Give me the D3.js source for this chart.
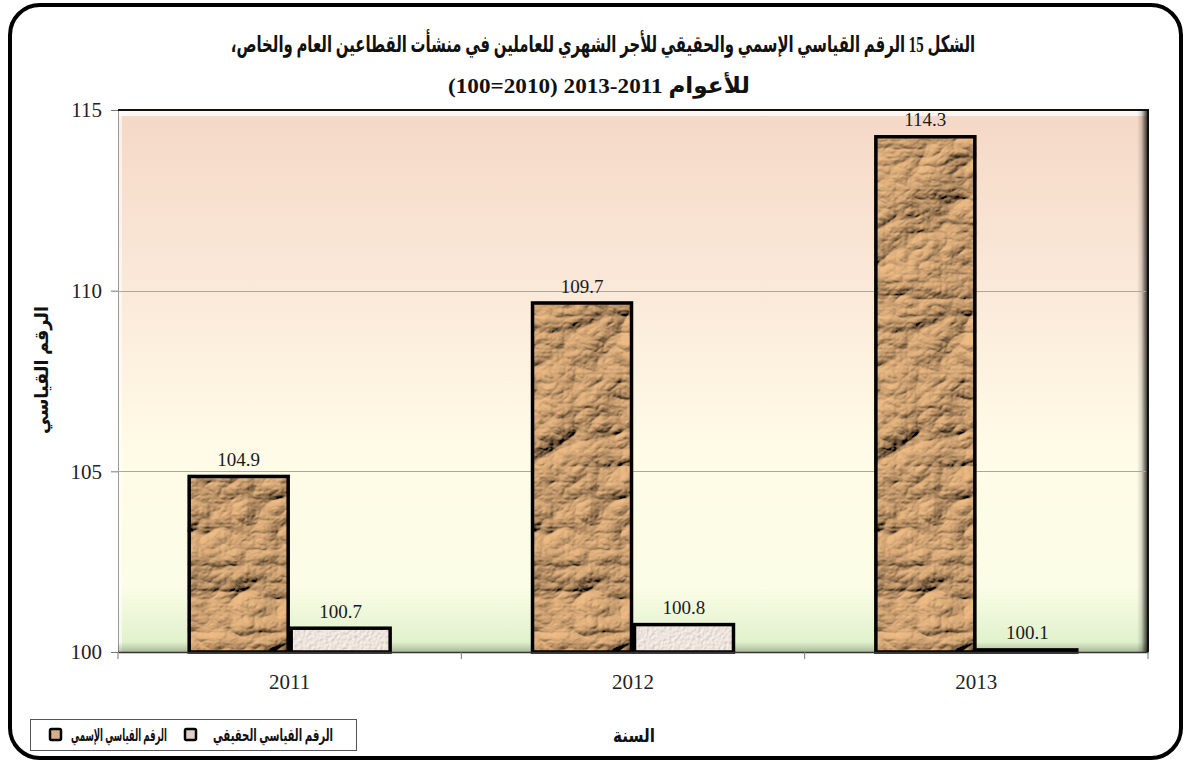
<!DOCTYPE html>
<html><head><meta charset="utf-8">
<script src="https://cdn.jsdelivr.net/npm/d3@7/dist/d3.min.js"></script>
<style>
html,body{margin:0;padding:0;background:#fff;}
svg{display:block;}
</style></head>
<body>
<svg id="chart" width="1189" height="765"></svg>
<script>
const years = ["2011", "2012", "2013"];
const nominal = [104.9, 109.7, 114.3];
const real = [100.7, 100.8, 100.1];
const yTicks = [100, 105, 110, 115];
const seriesNames = ["الرقم القياسي الإسمي", "الرقم القياسي الحقيقي"];
const titleLine1 = "الشكل 15 الرقم القياسي الإسمي والحقيقي  للأجر الشهري للعاملين في منشأت القطاعين العام والخاص،";
const titleLine2 = "للأعوام  2011\u200F-2013 (2010=100)";
const yTitle = "الرقم القياسي";
const xTitle = "السنة";

const svg = d3.select("#chart");
const plot = {left: 118, right: 1148, top: 110, bottom: 652};
const serif = '"Liberation Serif","Times New Roman",serif';

const defs = svg.append("defs");
const bg = defs.append("linearGradient").attr("id","plotbg").attr("x1",0).attr("y1",0).attr("x2",0).attr("y2",1);
[["0%","#f5d8c6"],["35%","#fbeada"],["62%","#fffbe6"],["88%","#fbfde6"],["100%","#dcefc8"]].forEach(s=>bg.append("stop").attr("offset",s[0]).attr("stop-color",s[1]));
const rs = defs.append("linearGradient").attr("id","rshade").attr("x1",0).attr("y1",0).attr("x2",1).attr("y2",0);
[["0%","#000",0],["40%","#000",0.15],["100%","#000",0.85]].forEach(s=>rs.append("stop").attr("offset",s[0]).attr("stop-color",s[1]).attr("stop-opacity",s[2]));
const bs = defs.append("linearGradient").attr("id","bshade").attr("x1",0).attr("y1",0).attr("x2",0).attr("y2",1);
[["0%","#000",0],["100%","#000",0.45]].forEach(s=>bs.append("stop").attr("offset",s[0]).attr("stop-color",s[1]).attr("stop-opacity",s[2]));

// crumpled paper filter
const f1 = defs.append("filter").attr("id","crumple").attr("x",0).attr("y",0).attr("width","100%").attr("height","100%");
f1.append("feTurbulence").attr("type","turbulence").attr("baseFrequency","0.011 0.015").attr("numOctaves",5).attr("seed",11).attr("result","noise");
const dl = f1.append("feDiffuseLighting").attr("in","noise").attr("lighting-color","#f0bd86").attr("surfaceScale",10).attr("diffuseConstant",1.0).attr("result","light");
dl.append("feDistantLight").attr("azimuth",235).attr("elevation",40);
f1.append("feComposite").attr("in","light").attr("in2","SourceGraphic").attr("operator","in");

const f2 = defs.append("filter").attr("id","paper").attr("x",0).attr("y",0).attr("width","100%").attr("height","100%");
f2.append("feTurbulence").attr("type","fractalNoise").attr("baseFrequency","0.35").attr("numOctaves",2).attr("seed",3).attr("result","noise");
const dl2 = f2.append("feDiffuseLighting").attr("in","noise").attr("lighting-color","#fbf3ea").attr("surfaceScale",1.0).attr("result","light");
dl2.append("feDistantLight").attr("azimuth",225).attr("elevation",62);
f2.append("feComposite").attr("in","light").attr("in2","SourceGraphic").attr("operator","in");

// outer rounded frame
svg.append("rect").attr("x",10).attr("y",5).attr("width",1171).attr("height",753)
  .attr("rx",30).attr("ry",30).attr("fill","#fff").attr("stroke","#000").attr("stroke-width",4);

const y = d3.scaleLinear().domain([100,115]).range([plot.bottom, plot.top]);
const x0 = d3.scaleBand().domain(years).range([plot.left, plot.right]).paddingInner(0.406).paddingOuter(0.203);
const x1 = d3.scaleBand().domain([0,1]).range([0, x0.bandwidth()]).padding(0);

// plot area
svg.append("rect").attr("x",plot.left).attr("y",plot.top).attr("width",plot.right-plot.left).attr("height",plot.bottom-plot.top).attr("fill","url(#plotbg)");
svg.append("rect").attr("x",plot.left).attr("y",plot.top+1).attr("width",plot.right-plot.left).attr("height",5).attr("fill","#fff").attr("opacity",0.8);
svg.append("rect").attr("x",plot.left).attr("y",plot.top).attr("width",4).attr("height",plot.bottom-plot.top).attr("fill","#fff").attr("opacity",0.6);
svg.append("line").attr("x1",plot.left+0.5).attr("x2",plot.left+0.5).attr("y1",plot.top).attr("y2",plot.bottom).attr("stroke","#9a9a9a");
svg.append("rect").attr("x",plot.right-11).attr("y",plot.top+1).attr("width",11).attr("height",plot.bottom-plot.top-1).attr("fill","url(#rshade)");
svg.append("rect").attr("x",plot.left).attr("y",plot.bottom-10).attr("width",plot.right-plot.left).attr("height",10).attr("fill","url(#bshade)").attr("opacity",0.5);

svg.append("g").selectAll("line").data(yTicks.filter(d=>d>100 && d<115)).join("line")
  .attr("x1",plot.left).attr("x2",plot.right-2).attr("y1",d=>Math.round(y(d))+0.5).attr("y2",d=>Math.round(y(d))+0.5)
  .attr("stroke","#a8a8a0").attr("stroke-width",1);
svg.append("line").attr("x1",plot.left).attr("x2",plot.right+1).attr("y1",plot.top).attr("y2",plot.top).attr("stroke","#111").attr("stroke-width",2);
svg.append("line").attr("x1",plot.right).attr("x2",plot.right).attr("y1",plot.top).attr("y2",plot.bottom).attr("stroke","#111").attr("stroke-width",2);

// y axis
const yAxis = d3.axisLeft(y).tickValues(yTicks).tickSize(7).tickPadding(9).tickFormat(d3.format("d"));
const gy = svg.append("g").attr("transform",`translate(${plot.left},0)`).call(yAxis);
gy.attr("font-family",null).attr("font-size",null);
gy.select(".domain").remove();
gy.selectAll(".tick line").attr("stroke","#777");
gy.selectAll("text").style("font-family",serif).style("font-size","21px").attr("fill","#222");

// bars
const groups = svg.append("g").selectAll("g").data(years).join("g").attr("transform",d=>`translate(${x0(d)},0)`);
groups.each(function(d,i){
  const g = d3.select(this);
  const bd = [{s:0,v:nominal[i]},{s:1,v:real[i]}];
  g.selectAll("rect.fill").data(bd).join("rect").attr("class","fill")
    .attr("x",b=>x1(b.s)).attr("width",x1.bandwidth())
    .attr("y",b=>y(b.v)).attr("height",b=>y(100)-y(b.v))
    .attr("fill",b=>b.s===0?"#b8966a":"#e0d9d0")
    .attr("filter",b=>b.s===0?"url(#crumple)":"url(#paper)");
  g.selectAll("rect.edge").data(bd).join("rect").attr("class","edge")
    .attr("x",b=>x1(b.s)+1.5).attr("width",x1.bandwidth()-3)
    .attr("y",b=>y(b.v)+1.5).attr("height",b=>Math.max(0.5,y(100)-y(b.v)-1.5))
    .attr("fill","none").attr("stroke","#000").attr("stroke-width",3.5);
  g.selectAll("text").data(bd).join("text")
    .attr("x",b=>x1(b.s)+x1.bandwidth()/2).attr("y",b=>y(b.v)-9)
    .attr("text-anchor","middle").style("font-family",serif).style("font-size","19px").attr("fill","#1a1a1a")
    .text(b=>b.v.toFixed(1));
});

// x axis
const xAxis = d3.axisBottom(x0).tickSize(0).tickPadding(22);
const gx = svg.append("g").attr("transform",`translate(0,${plot.bottom})`).call(xAxis);
gx.attr("font-family",null).attr("font-size",null);
gx.select(".domain").attr("stroke","#333").attr("stroke-width",1.5);
gx.selectAll("text").style("font-family",serif).style("font-size","21px").attr("fill","#222");
const bounds = [plot.left].concat(years.map(d=>x0(d)-x0.step()*x0.paddingInner()/2 + x0.step()));
svg.append("g").selectAll("line").data(bounds).join("line")
  .attr("x1",d=>d).attr("x2",d=>d).attr("y1",plot.bottom).attr("y2",plot.bottom+7).attr("stroke","#777");

// Arabic text helper: fixed font size, horizontally scaled to target width
const arabic = '"Liberation Serif", "DejaVu Sans", sans-serif';
function label(parent, txt, cx, cy, size, target, rotate){
  const g = parent.append("g");
  const t = g.append("text").attr("x",0).attr("y",0).attr("text-anchor","middle").attr("direction","rtl")
    .style("font-family",arabic).style("font-weight","bold").style("font-size",size+"px").attr("fill","#111").text(txt);
  const w = t.node().getComputedTextLength();
  const sx = target / w;
  g.attr("transform",`translate(${cx},${cy})` + (rotate?` rotate(${rotate})`:"") + ` scale(${sx},1)`);
  return g;
}
label(svg, titleLine1, 603, 52, 23, 745);
label(svg, titleLine2, 599, 93, 22, 302);
label(svg, yTitle, 48, 370, 19, 128, -90);
label(svg, xTitle, 634, 742, 19, 42);

// legend
const lg = svg.append("g");
lg.append("rect").attr("x",30.5).attr("y",719.5).attr("width",326).attr("height",31).attr("fill","#fff").attr("stroke","#555").attr("stroke-width",1);
const legendItems = [
  {name: seriesNames[0], mx: 50, cx: 119, w: 96, fill:"#d3b08a"},
  {name: seriesNames[1], mx: 185, cx: 273, w: 120, fill:"#ddd0c6"}
];
legendItems.forEach(it=>{
  lg.append("rect").attr("x",it.mx).attr("y",729).attr("width",11).attr("height",11).attr("rx",1.5)
    .attr("fill",it.fill).attr("stroke","#000").attr("stroke-width",2.5);
  label(lg, it.name, it.cx, 741, 17, it.w);
});
</script>
</body></html>
